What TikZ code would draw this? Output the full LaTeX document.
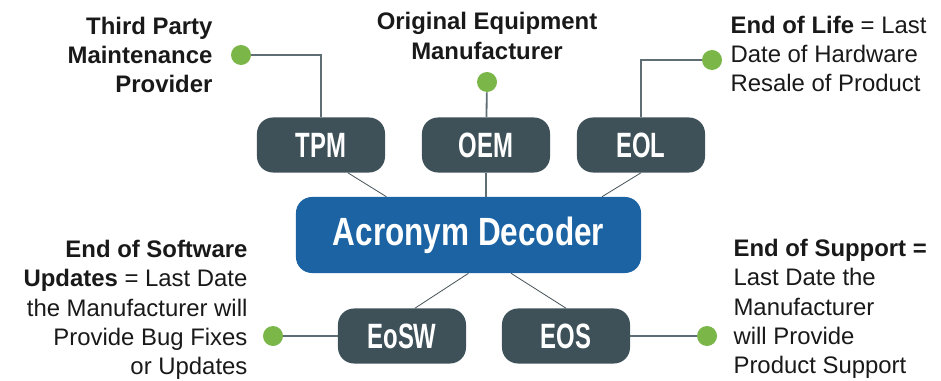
\documentclass[tikz,border=0pt]{standalone}
\usepackage{fontspec}
\setmainfont{Liberation Sans}
\newfontfamily\condfont[FakeStretch=0.68]{Liberation Sans}
\newfontfamily\decofont[FakeStretch=0.8]{Liberation Sans}
\usetikzlibrary{positioning,calc}
\definecolor{slate}{HTML}{3E5159}
\definecolor{decoblue}{HTML}{1B63A3}
\definecolor{dotgreen}{HTML}{7AB648}
\definecolor{wiregray}{HTML}{5F6E75}

\begin{document}
\begin{tikzpicture}[
    x=0.025cm, y=-0.025cm,
    acro/.style={rectangle, rounded corners=0.4cm, fill=slate, text=white, minimum width=3.2cm, minimum height=1.375cm, font=\condfont\bfseries\fontsize{25}{25}\selectfont},
    hub/.style={rectangle, rounded corners=0.4cm, fill=decoblue, text=white, minimum width=8.625cm, minimum height=1.9cm, font=\decofont\bfseries\fontsize{28}{28}\selectfont},
    bullet/.style={circle, fill=dotgreen, minimum size=0.5cm, inner sep=0pt},
    desc/.style={inner sep=0pt, text=black!90, font=\fontsize{17}{20.8}\selectfont},
    link/.style={draw=wiregray, line width=1.3pt},
    thinlink/.style={draw=wiregray!80!black, line width=0.6pt}
]
\useasboundingbox (0,0) rectangle (941,381);

% centre and the five acronyms
\node[hub] (deco) at (468.5,235) {Acronym Decoder};
\node[acro] (tpm) at (321,145) {TPM};
\node[acro] (oem) at (486,145) {OEM};
\node[acro] (eol) at (641,145) {EOL};
\node[acro] (eosw) at (402,336) {EoSW};
\node[acro] (eos) at (566,336) {EOS};

% green end points
\node[bullet] (tpmdot) at (241,55) {};
\node[bullet] (oemdot) at (487,82) {};
\node[bullet] (eoldot) at (712,60) {};
\node[bullet] (eoswdot) at (273,336) {};
\node[bullet] (eosdot) at (707,336) {};

% meanings
\node[desc, align=right, left=0.45cm of tpmdot] (tpmtext) {\textbf{Third Party}\\\textbf{Maintenance}\\\textbf{Provider}};
\node[desc, align=center, above=0.3cm of oemdot] (oemtext) {\textbf{Original Equipment}\\\textbf{Manufacturer}};
\node[desc, align=left, right=0.2cm of eoldot, yshift=0.15cm] (eoltext) {\textbf{End of Life} = Last\\Date of Hardware\\Resale of Product};
\node[desc, align=right, left=0.375cm of eoswdot, yshift=0.65cm] (eoswtext) {\textbf{End of Software}\\\textbf{Updates} = Last Date\\the Manufacturer will\\Provide Bug Fixes\\or Updates};
\node[desc, align=left, right=0.4cm of eosdot, yshift=0.675cm] (eostext) {\textbf{End of Support =}\\Last Date the\\Manufacturer\\will Provide\\Product Support};

% connectors
\draw[link] (tpmdot) -| (tpm);
\draw[link] (oemdot) -- (oem);
\draw[link] (eoldot) -| (eol);
\draw[link] (eoswdot) -- (eosw);
\draw[link] (eos) -- (eosdot);
\draw[link] (oem.south) -- (oem.south |- deco.north);
\draw[thinlink] (tpm.-46) -- (deco.155);
\draw[thinlink] (eol.south) -- (deco.16);
\draw[thinlink] (eosw.65) -- (deco.south);
\draw[thinlink] (deco.-42) -- (eos.north);
\end{tikzpicture}
\end{document}
